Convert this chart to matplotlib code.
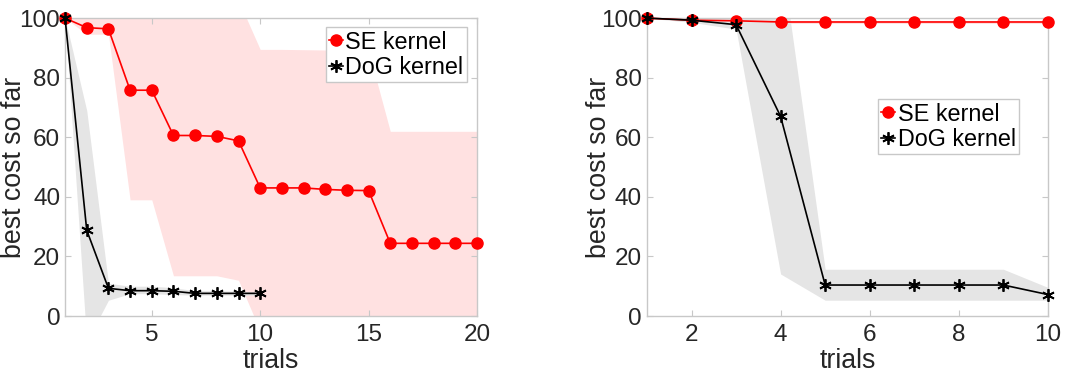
import numpy as np
import matplotlib
matplotlib.use("Agg")
import matplotlib.pyplot as plt

plt.rcParams["font.family"] = ["Liberation Sans", "DejaVu Sans"]

# left panel: 20 trials
trials_a = np.arange(1, 21)
se_a = [100, 96.8, 96.4, 75.8, 75.8, 60.6, 60.6, 60.3, 58.8, 43.0,
        43.0, 43.0, 42.5, 42.2, 42.1, 24.4, 24.4, 24.4, 24.4, 24.4]
se_a_hi = [100, 100, 100, 108, 108, 108, 108, 108, 106, 89.5,
           89.5, 89.4, 89.3, 89.2, 89.0, 62, 62, 62, 62, 62]
se_a_lo = [100, 94.6, 94.6, 39, 39, 13.5, 13.5, 13.5, 12.0, -5,
           -5, -5, -5, -5, -5, -5, -5, -5, -5, -5]

trials_a_dog = np.arange(1, 11)
dog_a = [100, 28.8, 9.3, 8.5, 8.5, 8.3, 7.6, 7.6, 7.6, 7.6]
dog_a_hi = [100, 69, 11, 10, 10, 9.5, 8.5, 8.5, 8.3, 8.0]
dog_a_lo = [100, -8.7, 5.3, 7.5, 7.5, 7.2, 7.0, 7.0, 7.0, 7.0]

# right panel: 10 trials
trials_b = np.arange(1, 11)
se_b = [100, 99.3, 99.1, 98.7, 98.7, 98.7, 98.7, 98.7, 98.7, 98.7]
se_b_hi = [100, 99.8, 99.6, 99.2, 99.2, 99.2, 99.2, 99.2, 99.2, 99.2]
se_b_lo = [100, 98.8, 98.6, 98.2, 98.2, 98.2, 98.2, 98.2, 98.2, 98.2]

dog_b = [100, 99.3, 97.8, 67.0, 10.4, 10.4, 10.4, 10.4, 10.4, 7.2]
dog_b_hi = [100, 99.8, 100, 122.5, 15.7, 15.7, 15.7, 15.7, 15.7, 9.6]
dog_b_lo = [100, 98.6, 96.3, 14.1, 5.3, 5.3, 5.3, 5.3, 5.3, 5.3]

red = "#ff0000"
pink = "#ffe1e1"
grey = "#e5e5e5"
txt = "#262626"
edge = "#c8c8c8"
star = (6, 2, 0)

fig = plt.figure(figsize=(10.77, 3.79), dpi=100)
ax1 = fig.add_axes([0.0604, 0.1662, 0.3825, 0.786])
ax2 = fig.add_axes([0.6007, 0.1662, 0.3723, 0.786])


def style(ax, xlim, xticks, ylab_x):
    ax.set_xlim(*xlim)
    ax.set_ylim(0, 100)
    ax.set_xticks(xticks)
    ax.set_yticks([0, 20, 40, 60, 80, 100])
    ax.tick_params(direction="in", length=4, colors=edge, labelcolor=txt,
                   labelsize=17.5, top=True, right=True)
    ax.tick_params(axis="x", pad=6)
    ax.tick_params(axis="y", pad=3.5)
    for s in ax.spines.values():
        s.set_color(edge)
        s.set_linewidth(1.0)
    ax.set_xlabel("trials", fontsize=19.25, color=txt, labelpad=1.5)
    ax.set_ylabel("best cost so far", fontsize=19.25, color=txt)
    ax.yaxis.set_label_coords(ylab_x, 0.5)


# left
ax1.fill_between(trials_a, se_a_lo, se_a_hi, color=pink, lw=0)
ax1.fill_between(trials_a_dog, dog_a_lo, dog_a_hi, color=grey, lw=0)
ax1.plot(trials_a, se_a, "-o", color=red, ms=8, lw=1.2, label="SE kernel",
         clip_on=False, zorder=3)
ax1.plot(trials_a_dog, dog_a, "-", marker=star, color="black", ms=9,
         mew=1.3, lw=1.2, label="DoG kernel", clip_on=False, zorder=3)
style(ax1, (1, 20), [5, 10, 15, 20], -0.092)
leg1 = ax1.legend(loc="upper right", bbox_to_anchor=(0.976, 0.97),
                  fontsize=16.8, handlelength=0.6, handletextpad=0.1,
                  borderpad=0.15, labelspacing=0.1, fancybox=False,
                  framealpha=1, borderaxespad=0)
leg1.get_frame().set_edgecolor(edge)

# right
ax2.fill_between(trials_b, se_b_lo, se_b_hi, color=pink, lw=0)
ax2.fill_between(trials_b, dog_b_lo, dog_b_hi, color=grey, lw=0)
ax2.plot(trials_b, se_b, "-o", color=red, ms=8, lw=1.2, label="SE kernel",
         clip_on=False, zorder=3)
ax2.plot(trials_b, dog_b, "-", marker=star, color="black", ms=9, mew=1.3,
         lw=1.2, label="DoG kernel", clip_on=False, zorder=3)
style(ax2, (1, 10), [2, 4, 6, 8, 10], -0.087)
leg2 = ax2.legend(loc="upper left", bbox_to_anchor=(0.576, 0.728),
                  fontsize=16.8, handlelength=0.6, handletextpad=0.1,
                  borderpad=0.15, labelspacing=0.1, fancybox=False,
                  framealpha=1, borderaxespad=0)
leg2.get_frame().set_edgecolor(edge)

fig.savefig("out.png", dpi=100)
